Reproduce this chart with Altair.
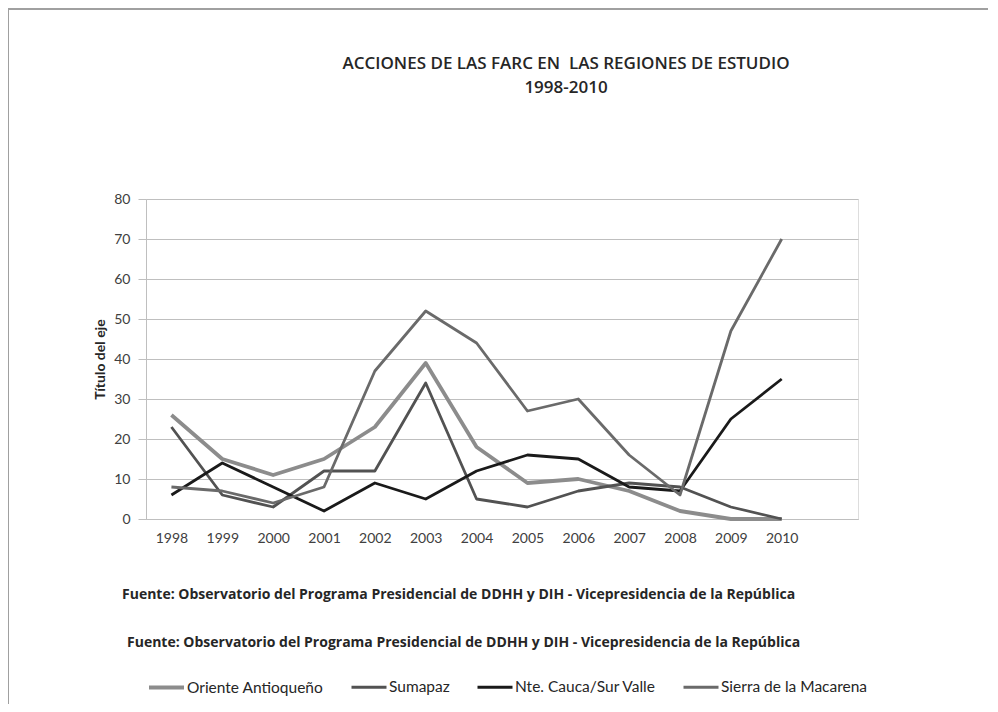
import altair as alt
import pandas as pd

years = list(range(1998, 2011))
series_names = ["Oriente Antioqueño", "Sumapaz", "Nte. Cauca/Sur Valle", "Sierra de la Macarena"]
oriente = [26, 15, 11, 15, 23, 39, 18, 9, 10, 7, 2, 0, 0]
sumapaz = [23, 6, 3, 12, 12, 34, 5, 3, 7, 9, 8, 3, 0]
cauca = [6, 14, 8, 2, 9, 5, 12, 16, 15, 8, 7, 25, 35]
macarena = [8, 7, 4, 8, 37, 52, 44, 27, 30, 16, 6, 47, 70]
y_ticks = [0, 10, 20, 30, 40, 50, 60, 70, 80]

title_lines = ["ACCIONES DE LAS FARC EN\u00a0 LAS REGIONES DE ESTUDIO", "1998-2010"]
footer_1 = "Fuente: Observatorio del Programa Presidencial de DDHH y DIH - Vicepresidencia de la República"
footer_2 = "Fuente: Observatorio del Programa Presidencial de DDHH y DIH - Vicepresidencia de la República"
y_title = "Título del eje"

colors = ["#8c8c8c", "#525252", "#1a1a1a", "#6a6a6a"]
widths = [3.8, 2.8, 2.8, 2.8]

rows = []
for name, vals in zip(series_names, [oriente, sumapaz, cauca, macarena]):
    for yr, v in zip(years, vals):
        rows.append({"Año": yr, "Valor": v, "Serie": name})
df = pd.DataFrame(rows)

FONT = "Lato"
FOOT_FONT = "Open Sans"

lines = alt.Chart(df).mark_line(strokeJoin="round").encode(
    x=alt.X("Año:Q", scale=alt.Scale(domain=[1997.5, 2011.5], nice=False, zero=False),
            axis=alt.Axis(values=years, format="d", title=None, ticks=False, grid=False,
                          domain=True, domainColor="#bfbfbf", domainWidth=1,
                          labelFontSize=14, labelColor="#404040", labelPadding=12, labelFont=FONT)),
    y=alt.Y("Valor:Q", scale=alt.Scale(domain=[0, 80], nice=False),
            axis=alt.Axis(values=y_ticks, title=y_title, grid=True, gridColor="#bfbfbf",
                          domain=True, domainColor="#bfbfbf", ticks=True, tickSize=8,
                          tickColor="#bfbfbf", labelPadding=8, labelFontSize=14,
                          labelColor="#404040", labelFont=FONT, titleFont=FONT,
                          titleFontSize=14, titleFontWeight="bold", titleColor="#262626",
                          titlePadding=6)),
    color=alt.Color("Serie:N", scale=alt.Scale(domain=series_names, range=colors),
                    legend=alt.Legend(orient="none", legendX=1, legendY=469, direction="horizontal",
                                      title=None, symbolType="stroke", symbolSize=1225,
                                      symbolStrokeWidth=4, labelFontSize=15.5, labelFont=FONT,
                                      labelColor="#262626", labelOffset=1, columnPadding=21,
                                      labelLimit=300)),
    strokeWidth=alt.StrokeWidth("Serie:N", scale=alt.Scale(type="ordinal", domain=series_names, range=widths),
                                legend=None),
    order=alt.Order("Año:Q"),
)

blank = alt.Data(values=[{}])

def text_layer(txt, x, y, size, weight, font, align="left"):
    return alt.Chart(blank).mark_text(align=align, baseline="alphabetic", fontSize=size,
                                      fontWeight=weight, font=font, color="#262626").encode(
        x=alt.value(x), y=alt.value(y), text=alt.value(txt))

title1 = text_layer(title_lines[0], 420, -130, 17, 600, FOOT_FONT, align="center")
title2 = text_layer(title_lines[1], 420, -106, 17, 600, FOOT_FONT, align="center")
foot1 = text_layer(footer_1, -24, 400, 14, "bold", FOOT_FONT)
foot2 = text_layer(footer_2, -19, 448, 14, "bold", FOOT_FONT)

border_top = alt.Chart(blank).mark_rule(color="#a0a0a0", strokeWidth=2).encode(
    x=alt.value(-138), x2=alt.value(845), y=alt.value(-190))
border_left = alt.Chart(blank).mark_rule(color="#a0a0a0", strokeWidth=2).encode(
    x=alt.value(-138), y=alt.value(-190), y2=alt.value(505))

chart = alt.layer(border_top, border_left, lines, title1, title2, foot1, foot2).properties(
    width=712, height=320,
    padding={"left": 138, "top": 191, "right": 130, "bottom": 185},
    autosize=alt.AutoSizeParams(type="none"),
).configure_view(stroke=None).configure(background="white")

chart.save("out.html", embed_options={"renderer": "svg", "actions": False})
